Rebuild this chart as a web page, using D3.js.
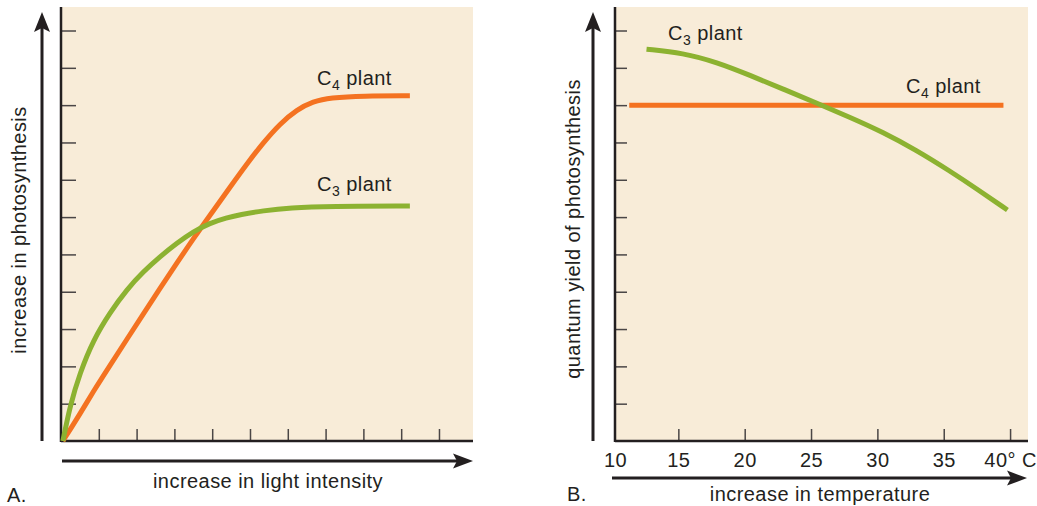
<!DOCTYPE html>
<html>
<head>
<meta charset="utf-8">
<script src="https://cdn.jsdelivr.net/npm/d3@7"></script>
<style>
  html, body { margin: 0; padding: 0; background: #ffffff; }
  svg text { font-family: "Liberation Sans", Arial, Helvetica, sans-serif; fill: #231F20; letter-spacing: 0.45px; }
</style>
</head>
<body>
<svg id="chart" width="1037" height="506"></svg>
<script>
// ---------- DATA ----------
// Panel A: light intensity (tick units) vs photosynthesis (tick units)
const lightC3X = [0.05, 0.24, 0.50, 0.85, 1.30, 1.74, 2.18, 2.62, 3.06, 3.50, 3.94, 4.38, 4.74, 5.34, 6.06, 7.12, 9.23];
const lightC3Y = [0.00, 0.95, 1.82, 2.70, 3.45, 4.06, 4.54, 4.94, 5.30, 5.61, 5.84, 5.98, 6.07, 6.17, 6.25, 6.29, 6.30];
const lightC4X = [0.05, 0.50, 0.85, 1.30, 1.74, 2.18, 2.62, 3.06, 3.50, 4.00, 4.47, 4.92, 5.34, 5.79, 6.24, 6.67, 7.12, 7.99, 9.23];
const lightC4Y = [0.00, 0.72, 1.32, 2.03, 2.72, 3.41, 4.09, 4.76, 5.42, 6.13, 6.80, 7.43, 7.98, 8.50, 8.88, 9.10, 9.20, 9.25, 9.25];
// Panel B: temperature (°C) vs quantum yield (tick units)
const tempC3X = [12.6, 15.35, 17.9, 20.4, 22.9, 25.4, 27.9, 30.4, 32.9, 35.4, 37.6, 39.8];
const tempC3Y = [10.5, 10.4, 10.15, 9.8, 9.43, 9.06, 8.68, 8.28, 7.80, 7.25, 6.73, 6.19];
const tempC4X = [11.3, 39.5];
const tempC4Y = [9.0, 9.0];
// ticks
const yTickValues = [1, 2, 3, 4, 5, 6, 7, 8, 9, 10, 11];
const lightTickValues = [1, 2, 3, 4, 5, 6, 7, 8, 9, 10];
const tempTickValues = [10, 15, 20, 25, 30, 35, 40];
const tempTickLabels = ["10", "15", "20", "25", "30", "35", "40° C"];
// texts
const titleA = "A.";
const titleB = "B.";
const xLabelA = "increase in light intensity";
const yLabelA = "increase in photosynthesis";
const xLabelB = "increase in temperature";
const yLabelB = "quantum yield of photosynthesis";

// ---------- STYLE ----------
const BG = "#F8ECD8";
const ORANGE = "#F47221";
const GREEN = "#8CB231";
const DARK = "#231F20";
const TICK = "#4a4646";
const FS = 20;

const svg = d3.select("#chart");

// ---------- SCALES ----------
const yScale = d3.scaleLinear().domain([0, 11.63]).range([441, 7]);
const xA = d3.scaleLinear().domain([0, 10.9]).range([61, 473]);
const xB = d3.scaleLinear().domain([10, 41.2]).range([612, 1026]);

function zip(xs, ys) { return xs.map((x, i) => [x, ys[i]]); }

function arrowUp(g, x, yBottom, yTip) {
  g.append("line").attr("x1", x).attr("x2", x).attr("y1", yBottom).attr("y2", yTip + 12)
    .attr("stroke", DARK).attr("stroke-width", 3);
  g.append("path").attr("d", `M${x},${yTip} L${x - 8},${yTip + 20} L${x},${yTip + 16} L${x + 8},${yTip + 20} Z`)
    .attr("fill", DARK);
}
function arrowRight(g, xLeft, xTip, y) {
  g.append("line").attr("x1", xLeft).attr("x2", xTip - 12).attr("y1", y).attr("y2", y)
    .attr("stroke", DARK).attr("stroke-width", 3);
  g.append("path").attr("d", `M${xTip},${y} L${xTip - 20},${y - 7.5} L${xTip - 16},${y} L${xTip - 20},${y + 7.5} Z`)
    .attr("fill", DARK);
}
function plantLabel(g, x, y, sub) {
  const t = g.append("text").attr("x", x).attr("y", y).attr("font-size", FS);
  t.append("tspan").text("C");
  t.append("tspan").attr("font-size", 14).attr("dy", 5).text(sub);
  t.append("tspan").attr("dy", -5).text(" plant");
}

// ---------- PANEL A ----------
const gA = svg.append("g");
gA.append("rect").attr("x", xA(0)).attr("y", yScale(11.63)).attr("width", xA(10.9) - xA(0))
  .attr("height", yScale(0) - yScale(11.63)).attr("fill", BG);

const yAxisA = d3.axisRight(yScale).tickValues(yTickValues).tickSize(15).tickFormat("");
const gyA = gA.append("g").attr("transform", `translate(${xA(0)},0)`).call(yAxisA);
gyA.select(".domain").remove();
gyA.selectAll(".tick line").attr("stroke", TICK).attr("stroke-width", 1.5);

const xAxisA = d3.axisTop(xA).tickValues(lightTickValues).tickSize(12).tickFormat("");
const gxA = gA.append("g").attr("transform", `translate(0,${yScale(0)})`).call(xAxisA);
gxA.select(".domain").remove();
gxA.selectAll(".tick line").attr("stroke", TICK).attr("stroke-width", 1.5);

gA.append("line").attr("x1", xA(0)).attr("x2", xA(0)).attr("y1", yScale(11.63)).attr("y2", yScale(0) + 1)
  .attr("stroke", DARK).attr("stroke-width", 2.5);
gA.append("line").attr("x1", xA(0)).attr("x2", xA(10.9)).attr("y1", yScale(0)).attr("y2", yScale(0))
  .attr("stroke", DARK).attr("stroke-width", 2.5);

const lineA = d3.line().x(d => xA(d[0])).y(d => yScale(d[1])).curve(d3.curveBasis);
gA.append("path").attr("d", lineA(zip(lightC4X, lightC4Y))).attr("fill", "none")
  .attr("stroke", ORANGE).attr("stroke-width", 5);
gA.append("path").attr("d", lineA(zip(lightC3X, lightC3Y))).attr("fill", "none")
  .attr("stroke", GREEN).attr("stroke-width", 5);

plantLabel(gA, 317, 85, "4");
plantLabel(gA, 317, 191, "3");

arrowUp(gA, 42, 441, 12);
arrowRight(gA, 62, 473, 461);

gA.append("text").attr("x", 268).attr("y", 488).attr("text-anchor", "middle").attr("font-size", FS).text(xLabelA);
gA.append("text").attr("transform", "translate(26,230) rotate(-90)").attr("text-anchor", "middle")
  .attr("font-size", FS).text(yLabelA);
gA.append("text").attr("x", 7).attr("y", 502).attr("font-size", FS).text(titleA);

// ---------- PANEL B ----------
const gB = svg.append("g");
gB.append("rect").attr("x", 615).attr("y", yScale(11.63)).attr("width", xB(41.2) - 615 + 2)
  .attr("height", yScale(0) - yScale(11.63)).attr("fill", BG);

const yAxisB = d3.axisRight(yScale).tickValues(yTickValues).tickSize(12).tickFormat("");
const gyB = gB.append("g").attr("transform", `translate(615,0)`).call(yAxisB);
gyB.select(".domain").remove();
gyB.selectAll(".tick line").attr("stroke", TICK).attr("stroke-width", 1.5);

const xAxisB = d3.axisBottom(xB).tickValues(tempTickValues).tickSizeInner(-12).tickSizeOuter(0)
  .tickPadding(0).tickFormat((d, i) => tempTickLabels[i]);
const gxB = gB.append("g").attr("transform", `translate(0,${yScale(0)})`).call(xAxisB);
gxB.select(".domain").remove();
gxB.selectAll(".tick line").attr("stroke", TICK).attr("stroke-width", 1.5);
gxB.selectAll(".tick").filter(d => d === 10).select("line").remove();
gxB.selectAll(".tick text").attr("y", 26).attr("dy", 0).attr("font-size", FS)
  .attr("font-family", "Liberation Sans, Arial, sans-serif").attr("fill", DARK)
  .attr("dx", d => d === 10 ? 3 : 0);

gB.append("line").attr("x1", 615).attr("x2", 615).attr("y1", yScale(11.63)).attr("y2", yScale(0) + 1)
  .attr("stroke", DARK).attr("stroke-width", 2.5);
gB.append("line").attr("x1", 615).attr("x2", xB(41.2) + 2).attr("y1", yScale(0)).attr("y2", yScale(0))
  .attr("stroke", DARK).attr("stroke-width", 2.5);

const lineB = d3.line().x(d => xB(d[0])).y(d => yScale(d[1])).curve(d3.curveBasis);
gB.append("path").attr("d", lineB(zip(tempC4X, tempC4Y))).attr("fill", "none")
  .attr("stroke", ORANGE).attr("stroke-width", 5);
gB.append("path").attr("d", lineB(zip(tempC3X, tempC3Y))).attr("fill", "none")
  .attr("stroke", GREEN).attr("stroke-width", 5);

plantLabel(gB, 668, 40, "3");
plantLabel(gB, 906, 93, "4");

arrowUp(gB, 593, 441, 12);
arrowRight(gB, 612, 1027, 478);

gB.append("text").attr("x", 820).attr("y", 501).attr("text-anchor", "middle").attr("font-size", FS).text(xLabelB);
gB.append("text").attr("transform", "translate(580,229) rotate(-90)").attr("text-anchor", "middle")
  .attr("font-size", FS).text(yLabelB);
gB.append("text").attr("x", 567).attr("y", 501).attr("font-size", FS).text(titleB);
</script>
</body>
</html>
